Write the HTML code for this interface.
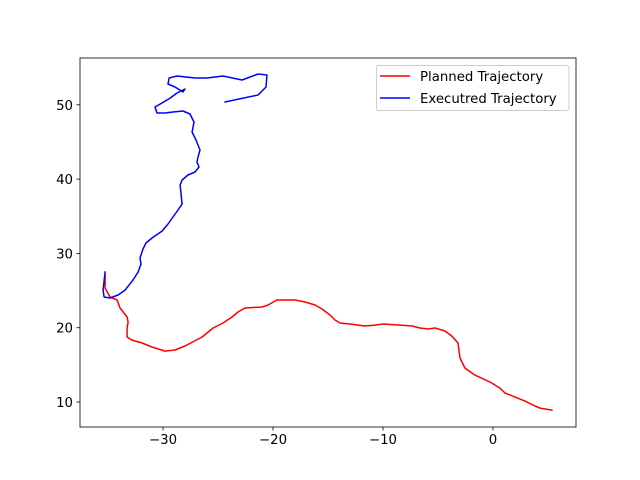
<!DOCTYPE html>
<html><head><meta charset="utf-8"><style>
body{margin:0;background:#fff}
svg{display:block;font-family:"DejaVu Sans","Liberation Sans",sans-serif}
</style></head><body>
<svg id="chart" width="640" height="480" viewBox="0 0 640 480">
<rect x="0" y="0" width="640" height="480" fill="#fff"/>
<g id="plot"></g>
</svg>
<script>
const xTicks=[-30,-20,-10,0];
const yTicks=[10,20,30,40,50];
const plannedX=[-35.27,-35.27,-34.82,-34.18,-33.91,-33.27,-33.18,-33.27,-33.27,-32.82,-31.91,-31.0,-29.82,-28.91,-28.0,-26.45,-25.45,-24.55,-23.73,-23.18,-22.55,-21.0,-20.45,-19.64,-18.0,-17.09,-16.18,-15.55,-14.82,-14.36,-13.91,-13.0,-11.64,-10.73,-10.0,-8.45,-7.36,-6.64,-5.91,-5.27,-4.36,-3.73,-3.18,-3.0,-2.55,-1.64,-0.27,0.64,1.09,2.0,2.91,3.82,4.27,5.36];
const plannedY=[27.09,25.34,24.13,23.73,22.65,21.44,20.77,19.96,18.75,18.34,17.94,17.40,16.86,17.0,17.54,18.75,19.96,20.63,21.44,22.11,22.65,22.79,23.06,23.73,23.73,23.46,23.06,22.52,21.71,21.04,20.63,20.50,20.23,20.36,20.50,20.36,20.23,19.96,19.83,19.96,19.56,18.88,17.94,15.92,14.58,13.63,12.69,11.88,11.21,10.67,10.13,9.46,9.19,8.92];
const executedX=[-35.27,-35.45,-35.36,-34.82,-34.09,-33.45,-32.73,-32.27,-32.0,-32.09,-31.82,-31.55,-31.0,-30.09,-29.55,-29.09,-28.64,-28.27,-28.45,-28.27,-27.73,-27.09,-26.73,-26.91,-26.82,-26.64,-27.0,-27.36,-27.18,-27.55,-28.18,-29.09,-29.82,-30.55,-30.73,-30.09,-29.36,-28.73,-28.0,-28.18,-28.91,-29.55,-29.45,-28.73,-27.09,-26.0,-24.55,-22.82,-21.36,-20.55,-20.64,-21.36,-24.36];
const executedY=[27.50,25.07,24.13,24.0,24.40,25.07,26.42,27.50,28.57,29.38,30.59,31.40,32.07,33.01,33.96,34.90,35.84,36.65,39.21,39.88,40.55,40.96,41.63,42.30,42.97,43.92,45.26,46.34,47.69,48.76,49.17,49.03,48.90,48.90,49.70,50.24,50.91,51.59,52.13,51.72,52.40,52.80,53.61,53.88,53.61,53.61,53.88,53.34,54.15,54.01,52.40,51.32,50.38];
const L=80,R=576,T=58,B=427,xMin=-37.55,xMax=7.55,yMin=6.64,yMax=56.3;
const sx=v=>L+(v-xMin)/(xMax-xMin)*(R-L);
const sy=v=>B-(v-yMin)/(yMax-yMin)*(B-T);
const NS="http://www.w3.org/2000/svg";
const g=document.getElementById('plot');
function mk(tag,attrs){const e=document.createElementNS(NS,tag);for(const k in attrs)e.setAttribute(k,attrs[k]);g.appendChild(e);return e;}
function line(xs,ys,color,name){
  const d=xs.map((x,i)=>(i?'L':'M')+sx(x).toFixed(1)+','+sy(ys[i]).toFixed(1)).join('');
  const p=mk('path',{d:d,fill:'none',stroke:color,'stroke-width':1.5,'stroke-linejoin':'round','stroke-linecap':'square'});
  
  
}
line(plannedX,plannedY,'#ff0000','planned-trajectory-line');
line(executedX,executedY,'#0000ff','executed-trajectory-line');
const frame=mk('rect',{x:L,y:T,width:R-L,height:B-T,fill:'none',stroke:'#000','stroke-width':0.8});


xTicks.forEach(v=>{
  const t=mk('line',{x1:sx(v),x2:sx(v),y1:B,y2:B+3.5,stroke:'#000','stroke-width':0.8});
  
  
  const tx=mk('text',{x:sx(v),y:B+17,'text-anchor':'middle','font-size':'13.3px',fill:'#000'});
  tx.textContent=(v<0?'\u2212'+(-v):v);
  
  
});
yTicks.forEach(v=>{
  const t=mk('line',{x1:L-3.5,x2:L,y1:sy(v),y2:sy(v),stroke:'#000','stroke-width':0.8});
  
  
  const tx=mk('text',{x:L-7,y:sy(v)+5,'text-anchor':'end','font-size':'13.3px',fill:'#000'});
  tx.textContent=v;
  
  
});
const lg=mk('rect',{x:376.5,y:65.5,width:192.5,height:45,rx:2,fill:'#fff','fill-opacity':0.8,stroke:'#ccc','stroke-width':1});


[['Planned Trajectory','#ff0000',76],['Executred Trajectory','#0000ff',98]].forEach(([lab,c,y])=>{
  const l=mk('line',{x1:380,x2:410,y1:y,y2:y,stroke:c,'stroke-width':1.5});
  
  
  const t=mk('text',{x:420,y:y+5,'font-size':'13.3px',fill:'#000'});
  t.textContent=lab;
  
  
});
</script>
</body></html>
